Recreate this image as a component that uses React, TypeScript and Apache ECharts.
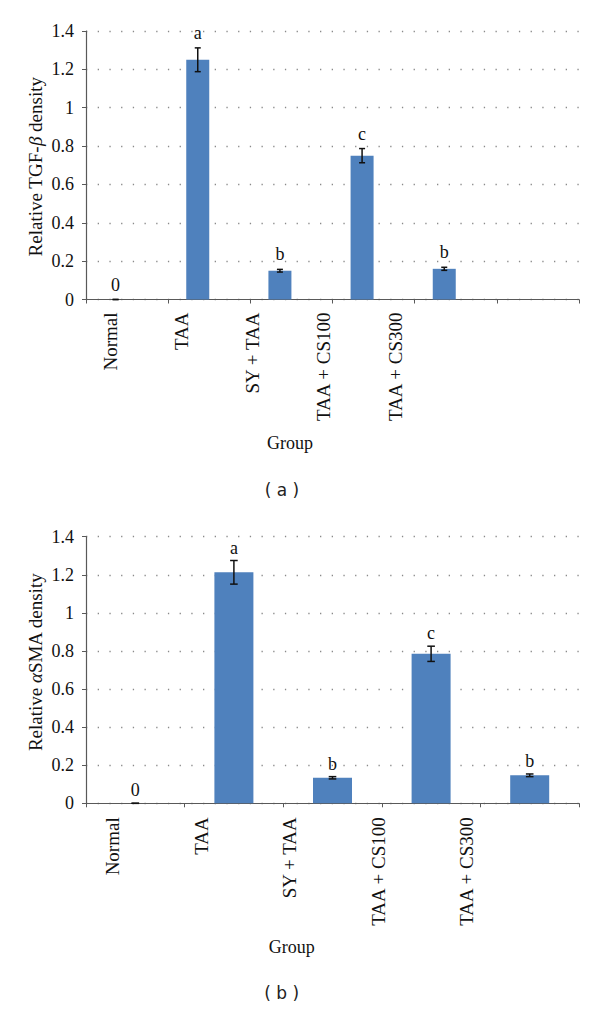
import React, { useEffect, useRef } from "react";
import * as echarts from "echarts";

const categories = ["Normal", "TAA", "SY + TAA", "TAA + CS100", "TAA + CS300"];
const tgfAxisCategories = ["Normal", "TAA", "SY + TAA", "TAA + CS100", "TAA + CS300", ""];
const tgfValues = [0, 1.25, 0.15, 0.75, 0.16];
const tgfErrors = [0, 0.062, 0.007, 0.037, 0.008];
const tgfLetters = ["0", "a", "b", "c", "b"];
const smaValues = [0, 1.213, 0.134, 0.785, 0.147];
const smaErrors = [0, 0.062, 0.006, 0.04, 0.007];
const smaLetters = ["0", "a", "b", "c", "b"];
const tgfTitleParts = [
  { text: "Relative TGF-", italic: false },
  { text: "β", italic: true },
  { text: " density", italic: false },
];
const smaTitleParts = [
  { text: "Relative ", italic: false },
  { text: "α", italic: true },
  { text: "SMA density", italic: false },
];
const yMin = 0;
const yMax = 1.4;
const yStep = 0.2;

const SERIF = "'Liberation Serif', 'Times New Roman', serif";
const BAR_COLOR = "#4F81BD";
const AXIS_COLOR = "#595959";

function errorRender(letters: string[], xOffset: number, labelGap: number, cap: number) {
  return (params: any, api: any) => {
    const idx = api.value(0);
    const v = api.value(1);
    const e = api.value(2);
    const top = api.coord([idx, v + e]);
    const bot = api.coord([idx, v - e]);
    const x = top[0] + xOffset;
    const children: any[] = [
      { type: "line", shape: { x1: x, y1: top[1], x2: x, y2: bot[1] }, style: { stroke: "#111", lineWidth: 1.5 } },
      { type: "line", shape: { x1: x - cap, y1: top[1], x2: x + cap, y2: top[1] }, style: { stroke: "#111", lineWidth: 1.5 } },
      { type: "line", shape: { x1: x - cap, y1: bot[1], x2: x + cap, y2: bot[1] }, style: { stroke: "#111", lineWidth: 1.5 } },
      {
        type: "text",
        style: {
          text: letters[params.dataIndex],
          x: x,
          y: top[1] - labelGap,
          font: "18px " + SERIF,
          fill: "#111",
          align: "center",
          verticalAlign: "bottom",
          textAlign: "center",
          textVerticalAlign: "bottom",
        },
      },
    ];
    return { type: "group", children };
  };
}

function valueAxis(gridIndex: number) {
  return {
    type: "value",
    gridIndex,
    min: yMin,
    max: yMax,
    interval: yStep,
    axisLine: { show: true, lineStyle: { color: AXIS_COLOR, width: 1.2 } },
    axisTick: { show: true, length: 4, inside: false, lineStyle: { color: AXIS_COLOR } },
    axisLabel: { fontFamily: SERIF, fontSize: 18, color: "#111", margin: 12 },
    splitLine: { show: true, lineStyle: { color: "#8a8a8a", width: 1.3, type: [1.3, 10.4] } },
  };
}

function barAxis(gridIndex: number, data: string[]) {
  return {
    type: "category",
    gridIndex,
    data,
    boundaryGap: true,
    axisLine: { show: true, lineStyle: { color: AXIS_COLOR, width: 1.2 } },
    axisTick: { show: true, length: 4, interval: 0, lineStyle: { color: AXIS_COLOR } },
    axisLabel: { show: false },
    splitLine: { show: false },
  };
}

function labelAxis(gridIndex: number, margin: number) {
  return {
    type: "category",
    gridIndex,
    data: categories,
    axisLine: { show: false },
    axisTick: { show: false },
    axisLabel: { show: true, interval: 0, rotate: 90, margin, fontFamily: SERIF, fontSize: 19, color: "#111" },
    splitLine: { show: false },
  };
}

function partFont(italic: boolean, size: number) {
  return (italic ? "italic " : "") + size + "px " + SERIF;
}

function rotatedName(parts: { text: string; italic: boolean }[], cx: number, cy: number, size: number) {
  const ctx = document.createElement("canvas").getContext("2d") as CanvasRenderingContext2D;
  const widths = parts.map((p) => {
    ctx.font = partFont(p.italic, size);
    return ctx.measureText(p.text).width;
  });
  const total = widths.reduce((a, b) => a + b, 0);
  let offset = 0;
  const children: any[] = parts.map((p, i) => {
    const el = {
      type: "text",
      x: cx,
      y: cy + total / 2 - offset,
      rotation: Math.PI / 2,
      style: { text: p.text, font: partFont(p.italic, size), fill: "#111", align: "left", verticalAlign: "middle" },
    };
    offset += widths[i];
    return el;
  });
  return { type: "group", children };
}

export default function App() {
  const ref = useRef<HTMLDivElement>(null);
  useEffect(() => {
    if (!ref.current) return;
    const chart = echarts.init(ref.current, undefined, { renderer: "svg" });
    const option: any = {
      animation: false,
      backgroundColor: "#ffffff",
      grid: [
        { left: 86, top: 31, width: 493, height: 268.5 },
        { left: 74.4, top: 31, width: 356.5, height: 268.5 },
        { left: 86, top: 536.7, width: 493, height: 266.6 },
        { left: 68.5, top: 536.7, width: 442.5, height: 266.6 },
      ],
      xAxis: [barAxis(0, tgfAxisCategories), labelAxis(1, 13), barAxis(2, categories), labelAxis(3, 14)],
      yAxis: [
        valueAxis(0),
        { type: "value", gridIndex: 1, show: false, min: 0, max: 1 },
        valueAxis(2),
        { type: "value", gridIndex: 3, show: false, min: 0, max: 1 },
      ],
      series: [
        {
          type: "bar",
          xAxisIndex: 0,
          yAxisIndex: 0,
          data: tgfValues,
          barWidth: 23,
          barGap: "0%",
          itemStyle: { color: BAR_COLOR },
        },
        {
          type: "bar",
          xAxisIndex: 0,
          yAxisIndex: 0,
          data: tgfValues.map(() => "-"),
          barWidth: 23,
          barGap: "0%",
          itemStyle: { color: BAR_COLOR },
        },
        {
          type: "custom",
          xAxisIndex: 0,
          yAxisIndex: 0,
          clip: false,
          z: 5,
          data: tgfValues.map((v, i) => [i, v, tgfErrors[i]]),
          renderItem: errorRender(tgfLetters, -11.5, 6, 3),
        },
        {
          type: "bar",
          xAxisIndex: 2,
          yAxisIndex: 2,
          data: smaValues,
          barWidth: 39,
          itemStyle: { color: BAR_COLOR },
        },
        {
          type: "custom",
          xAxisIndex: 2,
          yAxisIndex: 2,
          clip: false,
          z: 5,
          data: smaValues.map((v, i) => [i, v, smaErrors[i]]),
          renderItem: errorRender(smaLetters, 0, 4, 3.8),
        },
      ],
      graphic: [
        rotatedName(tgfTitleParts, 35, 166.7, 19),
        rotatedName(smaTitleParts, 35, 661.7, 19),
        { type: "text", x: 290, y: 442.7, style: { text: "Group", font: "18px " + SERIF, fill: "#111", align: "center", verticalAlign: "middle" } },
        { type: "text", x: 282, y: 490, style: { text: "( a )", font: "17px 'DejaVu Sans', sans-serif", fill: "#222", align: "center", verticalAlign: "middle" } },
        { type: "text", x: 291.7, y: 946.7, style: { text: "Group", font: "18px " + SERIF, fill: "#111", align: "center", verticalAlign: "middle" } },
        { type: "text", x: 281.7, y: 993.3, style: { text: "( b )", font: "17px 'DejaVu Sans', sans-serif", fill: "#222", align: "center", verticalAlign: "middle" } },
      ],
    };
    chart.setOption(option);
    return () => chart.dispose();
  }, []);
  return <div ref={ref} style={{ position: "absolute", left: 0, top: 0, width: 600, height: 1009, background: "#fff" }} />;
}
